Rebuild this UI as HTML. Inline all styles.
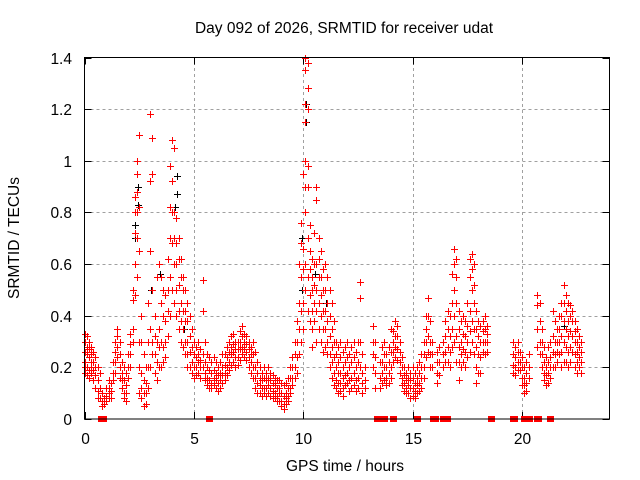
<!DOCTYPE html>
<html><head><meta charset="utf-8"><style>
body{margin:0;background:#fff;}
svg{display:block;font-family:"Liberation Sans",sans-serif;}
</style></head><body>
<svg id="chart" width="640" height="480" xmlns="http://www.w3.org/2000/svg">
<text x="344" y="33" font-size="15.5" text-anchor="middle">Day 092 of 2026, SRMTID for receiver udat</text>
<text transform="translate(19,238) rotate(-90)" font-size="15.5" text-anchor="middle">SRMTID / TECUs</text>
<text x="345" y="471" font-size="15.5" text-anchor="middle">GPS time / hours</text>
<g id="grid"></g><g id="ticks"></g><g id="marks"></g>
<rect x="84.5" y="57.5" width="525" height="361.5" fill="none" stroke="#000" stroke-width="1"/>
</svg>
<script>
const xTicks=[0,5,10,15,20];
const yTicks=[0,0.2,0.4,0.6,0.8,1,1.2,1.4];
const yTickLabels=["0","0.2","0.4","0.6","0.8","1","1.2","1.4"];
const times=[0.0,0.1,0.2,0.3,0.4,0.5,0.6,0.7,0.8,0.9,1.0,1.1,1.2,1.3,1.4,1.5,1.6,1.7,1.8,1.9,2.0,2.1,2.2,2.3,2.4,2.5,2.6,2.7,2.8,2.9,3.0,3.1,3.2,3.3,3.4,3.5,3.6,3.7,3.8,3.9,4.0,4.1,4.2,4.3,4.4,4.5,4.6,4.7,4.8,4.9,5.0,5.1,5.2,5.3,5.4,5.5,5.6,5.7,5.8,5.9,6.0,6.1,6.2,6.3,6.4,6.5,6.6,6.7,6.8,6.9,7.0,7.1,7.2,7.3,7.4,7.5,7.6,7.7,7.8,7.9,8.0,8.1,8.2,8.3,8.4,8.5,8.6,8.7,8.8,8.9,9.0,9.1,9.2,9.3,9.4,9.5,9.6,9.7,9.8,9.9,10.0,10.1,10.2,10.3,10.4,10.5,10.6,10.7,10.8,10.9,11.0,11.1,11.2,11.3,11.4,11.5,11.6,11.7,11.8,11.9,12.0,12.1,12.2,12.3,12.4,12.5,12.6,12.7,12.8,13.2,13.3,13.5,13.6,13.7,13.8,13.9,14.0,14.1,14.2,14.3,14.4,14.5,14.6,14.7,14.8,14.9,15.0,15.1,15.2,15.3,15.4,15.5,15.6,15.7,15.8,15.9,16.1,16.2,16.4,16.5,16.6,16.7,16.8,16.9,17.0,17.1,17.2,17.3,17.4,17.5,17.6,17.7,17.8,17.9,18.0,18.1,18.2,18.3,18.4,19.6,19.7,19.8,19.9,20.0,20.1,20.2,20.3,20.7,20.8,20.9,21.0,21.1,21.2,21.3,21.4,21.5,21.6,21.7,21.8,21.9,22.0,22.1,22.2,22.3,22.4,22.5,22.6,22.7];
const values=[[0.33,0.3,0.26,0.22,0.2,0.18],[0.32,0.28,0.25,0.2,0.17],[0.3,0.27,0.24,0.19,0.16],[0.28,0.25,0.22,0.2,0.18],[0.26,0.22,0.19,0.15],[0.24,0.2,0.17,0.12],[0.2,0.15,0.11,0.08],[0.18,0.12,0.08],[0.1,0.07,0.05],[0.08,0.06],[0.12,0.09,0.07],[0.15,0.12,0.1,0.08],[0.14,0.11,0.08],[0.22,0.18,0.15],[0.3,0.26,0.22,0.18],[0.35,0.32,0.28,0.24],[0.3,0.25,0.2,0.16],[0.22,0.18,0.15,0.12],[0.2,0.15,0.1,0.08],[0.18,0.13,0.1,0.07],[0.25,0.2,0.16],[0.33,0.29,0.25,0.2],[0.5,0.46,0.35,0.3],[0.86,0.8,0.72,0.6,0.48],[1.0,0.95,0.88,0.8,0.7,0.55],[1.1,0.82,0.65,0.3,0.2,0.1],[0.4,0.3,0.18,0.12,0.08],[0.25,0.15,0.1,0.05],[0.2,0.14,0.1,0.06],[0.45,0.3,0.2,0.12],[1.18,0.92,0.65,0.35,0.2],[1.09,0.95,0.5,0.3,0.25],[0.4,0.32,0.25,0.18],[0.55,0.3,0.22,0.15],[0.6,0.35,0.28,0.2],[0.55,0.45,0.3,0.2],[0.5,0.4,0.28,0.22],[0.48,0.38,0.3,0.24],[0.62,0.5,0.42,0.32],[0.98,0.82,0.7,0.55,0.4],[1.08,0.92,0.8,0.68,0.5],[1.05,0.8,0.7,0.6,0.45],[0.78,0.68,0.6,0.5,0.4],[0.7,0.62,0.52,0.42,0.35],[0.62,0.55,0.45,0.38,0.3],[0.55,0.5,0.42,0.35,0.28],[0.5,0.42,0.38,0.3,0.25],[0.45,0.38,0.3,0.25,0.2],[0.4,0.32,0.26,0.2],[0.35,0.28,0.22,0.18],[0.3,0.25,0.2,0.16],[0.28,0.24,0.2,0.17],[0.3,0.25,0.22,0.18],[0.27,0.23,0.2,0.16],[0.54,0.42,0.25,0.2],[0.3,0.22,0.18,0.15],[0.25,0.2,0.16,0.13],[0.24,0.19,0.15,0.12],[0.22,0.18,0.14,0.12],[0.24,0.19,0.16,0.13],[0.22,0.18,0.15,0.12],[0.2,0.17,0.14,0.11],[0.22,0.18,0.15,0.12],[0.25,0.2,0.17,0.14],[0.25,0.21,0.18,0.15],[0.28,0.24,0.2,0.17],[0.3,0.26,0.22,0.19],[0.32,0.28,0.25,0.21],[0.33,0.29,0.26,0.22],[0.3,0.27,0.24,0.2],[0.3,0.27,0.24,0.21],[0.34,0.3,0.27,0.23],[0.36,0.32,0.28,0.25],[0.33,0.3,0.27,0.24],[0.32,0.29,0.26,0.23],[0.3,0.27,0.24,0.2],[0.28,0.25,0.22,0.18],[0.3,0.25,0.2,0.16],[0.26,0.2,0.16,0.12],[0.22,0.18,0.14,0.1],[0.2,0.16,0.13,0.1],[0.18,0.15,0.12,0.09],[0.2,0.16,0.12,0.1],[0.18,0.15,0.12,0.09],[0.2,0.16,0.13,0.1],[0.18,0.15,0.12,0.09],[0.17,0.14,0.11,0.08],[0.16,0.13,0.1,0.08],[0.15,0.12,0.09,0.07],[0.15,0.12,0.1,0.07],[0.14,0.1,0.07,0.05],[0.13,0.09,0.06,0.04],[0.14,0.1,0.08,0.06],[0.16,0.12,0.09,0.07],[0.2,0.16,0.12,0.1],[0.24,0.2,0.16,0.13],[0.3,0.25,0.2,0.16],[0.38,0.3,0.24,0.18],[0.6,0.45,0.35,0.25],[0.76,0.68,0.55,0.42,0.3],[0.95,0.66,0.58,0.45,0.35],[1.4,1.35,1.22,1.15,1.0,0.9,0.8,0.6,0.5],[1.38,1.28,1.2,0.98,0.9,0.7,0.55,0.42],[0.75,0.65,0.58,0.48,0.38],[0.62,0.55,0.5,0.42,0.35,0.28],[0.72,0.6,0.52,0.45,0.38],[0.9,0.85,0.6,0.5,0.42,0.3],[0.7,0.62,0.55,0.45,0.35],[0.65,0.55,0.48,0.4,0.3],[0.58,0.5,0.42,0.35,0.26],[0.6,0.5,0.42,0.35,0.28],[0.55,0.45,0.38,0.3,0.25],[0.5,0.4,0.32,0.25,0.2],[0.45,0.35,0.28,0.22,0.16],[0.38,0.3,0.24,0.18,0.13],[0.3,0.25,0.2,0.15,0.12],[0.28,0.22,0.18,0.14,0.1],[0.3,0.24,0.18,0.14,0.11],[0.26,0.2,0.16,0.12,0.09],[0.28,0.22,0.17,0.13],[0.3,0.24,0.18,0.14],[0.25,0.2,0.15,0.11],[0.28,0.22,0.16,0.12],[0.3,0.24,0.18,0.13],[0.26,0.2,0.15,0.11],[0.3,0.22,0.16,0.12],[0.53,0.47,0.3,0.2],[0.25,0.18,0.14,0.1],[0.2,0.15,0.12],[0.36,0.3,0.25,0.2],[0.3,0.24,0.18,0.12],[0.22,0.16,0.12],[0.28,0.22,0.18,0.14],[0.3,0.25,0.2,0.15],[0.25,0.2,0.16,0.13],[0.28,0.22,0.18,0.14],[0.35,0.26,0.2,0.16],[0.34,0.3,0.26,0.22],[0.38,0.32,0.28,0.24],[0.36,0.32,0.27,0.23],[0.3,0.26,0.22,0.18],[0.24,0.2,0.16,0.13],[0.2,0.17,0.14,0.11],[0.18,0.15,0.12,0.1],[0.2,0.16,0.13,0.1],[0.18,0.15,0.12,0.08],[0.2,0.16,0.12,0.09],[0.18,0.14,0.11,0.08],[0.2,0.16,0.13,0.1],[0.22,0.18,0.14,0.11],[0.25,0.2,0.16,0.12],[0.3,0.25,0.2,0.16],[0.4,0.35,0.3,0.24],[0.47,0.4,0.32,0.26],[0.38,0.3,0.25,0.2],[0.3,0.25,0.2],[0.26,0.22,0.18,0.14],[0.28,0.22,0.17],[0.3,0.25,0.2],[0.38,0.32,0.26,0.22],[0.42,0.35,0.28,0.22],[0.4,0.32,0.26,0.2],[0.56,0.45,0.35,0.28],[0.66,0.6,0.5,0.4,0.3],[0.62,0.55,0.45,0.32,0.22],[0.42,0.35,0.28,0.22,0.15],[0.38,0.3,0.25,0.2],[0.4,0.33,0.27,0.22],[0.38,0.32,0.26,0.2],[0.45,0.36,0.3,0.24],[0.62,0.55,0.42,0.34,0.26],[0.64,0.58,0.5,0.38,0.3],[0.6,0.52,0.45,0.35,0.25],[0.42,0.35,0.28,0.2,0.14],[0.38,0.32,0.25,0.18],[0.36,0.3,0.24,0.18],[0.38,0.34,0.3,0.26],[0.4,0.35,0.3,0.25],[0.36,0.33,0.3,0.26],[0.3,0.25,0.21,0.18],[0.28,0.24,0.2,0.17],[0.3,0.26,0.22,0.19],[0.26,0.22,0.19],[0.24,0.2,0.16,0.13],[0.2,0.16,0.13,0.1],[0.22,0.18,0.14,0.11],[0.25,0.2,0.16],[0.48,0.44,0.35,0.28],[0.45,0.38,0.3,0.25],[0.35,0.3,0.25,0.2],[0.28,0.22,0.18,0.15],[0.24,0.2,0.17,0.13],[0.28,0.22,0.18,0.14],[0.3,0.24,0.2,0.16],[0.42,0.32,0.26,0.2],[0.38,0.3,0.25,0.2],[0.35,0.3,0.26,0.22],[0.4,0.35,0.3,0.25],[0.45,0.4,0.32,0.26,0.2],[0.52,0.45,0.38,0.3,0.22],[0.48,0.42,0.35,0.28,0.22],[0.45,0.38,0.32,0.26,0.2],[0.44,0.4,0.34,0.28,0.22],[0.42,0.38,0.32,0.26],[0.38,0.34,0.3,0.25,0.2],[0.35,0.3,0.26,0.22,0.18],[0.32,0.28,0.24,0.2],[0.3,0.26,0.22,0.18]];
const zeroTimes=[0.75,0.8,0.85,5.7,13.35,13.4,13.7,14.1,15.2,15.95,16.0,16.4,16.5,16.55,18.6,19.6,19.65,20.1,20.2,20.3,20.7,20.75,21.3];
const blackTimes=[2.3,2.3,2.4,2.4,3.0,3.4,4.1,4.2,4.2,4.5,9.9,9.9,10.1,10.1,10.3,10.5,11.0,17.7,17.7,21.9,22.4];
const blackValues=[0.75,0.7,0.9,0.83,0.5,0.56,0.82,0.94,0.87,0.35,0.7,0.5,1.15,1.22,0.58,0.56,0.45,0.64,0.58,0.36,0.3];

const X0=84.5,X1=609.5,Y0=419,Y1=57.5;
const xs=t=>X0+(t/24)*(X1-X0);
const ys=v=>Y0-(v/1.4)*(Y0-Y1);
const NS="http://www.w3.org/2000/svg";
const grid=document.getElementById('grid'),ticks=document.getElementById('ticks'),marks=document.getElementById('marks');
function mk(tag,attrs,parent){const e=document.createElementNS(NS,tag);for(const k in attrs)e.setAttribute(k,attrs[k]);parent.appendChild(e);return e;}
yTicks.forEach((v,i)=>{
  const y=Math.round(ys(v))+0.5;
  if(v>0&&v<1.4){const g=mk('line',{x1:X0,x2:X1,y1:y,y2:y,stroke:'#a0a0a0','stroke-dasharray':'3,3'},grid);
  
  }
  mk('line',{x1:X0,x2:X0+7,y1:y,y2:y,stroke:'#000'},ticks);
  mk('line',{x1:X1-7,x2:X1,y1:y,y2:y,stroke:'#000'},ticks);
  const t=mk('text',{x:72,y:y+5.5,'font-size':15.5,'text-anchor':'end'},ticks);
  t.textContent=yTickLabels[i];
  
  
});
xTicks.forEach(v=>{
  const x=Math.round(xs(v))+0.5;
  if(v>0){const g=mk('line',{x1:x,x2:x,y1:Y0,y2:Y1,stroke:'#a0a0a0','stroke-dasharray':'3,3'},grid);
  
  }
  mk('line',{x1:x,x2:x,y1:Y0,y2:Y0-7,stroke:'#000'},ticks);
  mk('line',{x1:x,x2:x,y1:Y1,y2:Y1+7,stroke:'#000'},ticks);
  const t=mk('text',{x:x,y:444,'font-size':15.5,'text-anchor':'middle'},ticks);
  t.textContent=String(v);
  
  
});
function plus(t,v,color,name){
  const x=Math.round(xs(t))+0.5,y=Math.round(ys(v))+0.5;
  const p=mk('path',{d:`M${x-3.5} ${y}H${x+3.5}M${x} ${y-3.5}V${y+3.5}`,stroke:color,'stroke-width':1,fill:'none','shape-rendering':'crispEdges'},marks);
  
  
}
blackTimes.forEach((t,i)=>plus(t+0.03,blackValues[i],'#000000','srmtid-point-alt'));
times.forEach((t,i)=>values[i].forEach(v=>plus(t,v,'#ff0000','srmtid-point')));
zeroTimes.forEach(t=>{
  const x=Math.round(xs(t));
  const r=mk('rect',{x:x-3,y:Y0-3,width:7,height:6,fill:'#ff0000'},marks);
  
  
});
</script>
</body></html>
